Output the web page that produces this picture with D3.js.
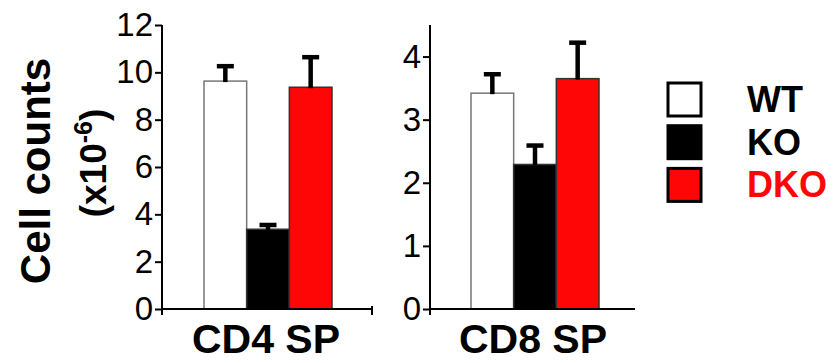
<!DOCTYPE html>
<html lang="en">

<head>
	<meta charset="utf-8">
	<script src="https://d3js.org/d3.v7.min.js"></script>
	<style type="text/css">
		body {
			margin: 0;
			background: #fff;
		}

		.tick text {
			font-family: "Liberation Sans", Arial, sans-serif;
			font-size: 33px;
			fill: #000;
		}
	</style>
</head>

<body>
	<svg id="svg1" width="833" height="363"></svg>
	<script type="text/javascript">
		// data
		var groups = ["WT", "KO", "DKO"];
		var colors = ["#ffffff", "#000000", "#ff0606"];
		var panels = ["CD4 SP", "CD8 SP"];
		var cd4Means = [9.63, 3.37, 9.37];
		var cd4Sem = [0.63, 0.18, 1.27];
		var cd8Means = [3.42, 2.29, 3.65];
		var cd8Sem = [0.30, 0.30, 0.57];
		var cd4Ticks = [0, 2, 4, 6, 8, 10, 12];
		var cd8Ticks = [0, 1, 2, 3, 4];

		var svg = d3.select("#svg1");
		var y0 = 309;
		var yTop = 25;

		var panelDefs = [
			{ name: panels[0], means: cd4Means, sem: cd4Sem, ticks: cd4Ticks, max: 12, axisX: 162, xEnd: 373, bars: [204, 332], endTick: true },
			{ name: panels[1], means: cd8Means, sem: cd8Sem, ticks: cd8Ticks, max: 4.5, axisX: 430, xEnd: 635, bars: [471, 599], endTick: false }
		];

		panelDefs.forEach(function (p) {
			var y = d3.scaleLinear().domain([0, p.max]).range([y0, yTop]);
			var x = d3.scaleBand().domain(groups).range(p.bars).paddingInner(0);
			var g = svg.append("g");

			// bars
			g.selectAll("rect.bar")
				.data(groups)
				.enter()
				.append("rect")
				.attr("class", "bar")
				.attr("x", function (d) { return x(d); })
				.attr("y", function (d, i) { return y(p.means[i]); })
				.attr("width", x.bandwidth())
				.attr("height", function (d, i) { return y0 - y(p.means[i]); })
				.style("fill", function (d, i) { return colors[i]; })
				.style("stroke", function (d, i) { return i == 0 ? "#777" : "#333"; })
				.style("stroke-width", 1.5);

			// upper error bars only
			g.selectAll("line.stem")
				.data(groups)
				.enter()
				.append("line")
				.attr("x1", function (d) { return x(d) + x.bandwidth() / 2; })
				.attr("x2", function (d) { return x(d) + x.bandwidth() / 2; })
				.attr("y1", function (d, i) { return y(p.means[i]) + 1; })
				.attr("y2", function (d, i) { return y(p.means[i] + p.sem[i]); })
				.style("stroke", "#000")
				.style("stroke-width", 4.5);
			g.selectAll("line.cap")
				.data(groups)
				.enter()
				.append("line")
				.attr("x1", function (d) { return x(d) + x.bandwidth() / 2 - 8.5; })
				.attr("x2", function (d) { return x(d) + x.bandwidth() / 2 + 8.5; })
				.attr("y1", function (d, i) { return y(p.means[i] + p.sem[i]); })
				.attr("y2", function (d, i) { return y(p.means[i] + p.sem[i]); })
				.style("stroke", "#000")
				.style("stroke-width", 4.5);

			// y axis
			var axis = g.append("g")
				.attr("transform", "translate(" + p.axisX + ",0)")
				.call(d3.axisLeft(y).tickValues(p.ticks).tickFormat(d3.format("d"))
					.tickSize(7).tickPadding(2).tickSizeOuter(0));
			axis.select(".domain").remove();
			axis.selectAll(".tick line").style("stroke", "#000").style("stroke-width", 2);
			g.append("line")
				.attr("x1", p.axisX).attr("x2", p.axisX)
				.attr("y1", yTop).attr("y2", y0 + 6)
				.style("stroke", "#000").style("stroke-width", 2);

			// x axis
			g.append("line")
				.attr("x1", p.axisX).attr("x2", p.xEnd)
				.attr("y1", y0).attr("y2", y0)
				.style("stroke", "#000").style("stroke-width", 2);
			if (p.endTick) {
				g.append("line")
					.attr("x1", p.xEnd - 1).attr("x2", p.xEnd - 1)
					.attr("y1", y0 - 3).attr("y2", y0 + 6)
					.style("stroke", "#000").style("stroke-width", 2);
			}

			g.append("text")
				.attr("x", (p.bars[0] + p.bars[1]) / 2 - 2)
				.attr("y", 353)
				.attr("text-anchor", "middle")
				.style("font-family", "'Liberation Sans', Arial, sans-serif")
				.style("font-weight", "bold")
				.style("font-size", "41px")
				.text(p.name);
		});

		// y axis title
		svg.append("text")
			.attr("transform", "translate(50,171) rotate(-90)")
			.attr("text-anchor", "middle")
			.style("font-family", "'Liberation Sans', Arial, sans-serif")
			.style("font-weight", "bold")
			.style("font-size", "42px")
			.text("Cell counts");
		var sub = svg.append("text")
			.attr("transform", "translate(106,163) rotate(-90)")
			.attr("text-anchor", "middle")
			.style("font-family", "'Liberation Sans', Arial, sans-serif")
			.style("font-weight", "bold")
			.style("font-size", "37px");
		sub.append("tspan").text("(x10");
		sub.append("tspan").attr("dy", -14).style("font-size", "25px").text("-6");
		sub.append("tspan").attr("dy", 14).text(")");

		// legend
		var legend = svg.append("g");
		legend.selectAll("rect")
			.data(groups)
			.enter()
			.append("rect")
			.attr("x", 668)
			.attr("y", function (d, i) { return 83 + i * 42.7; })
			.attr("width", 33)
			.attr("height", 33)
			.style("fill", function (d, i) { return colors[i]; })
			.style("stroke", "#000")
			.style("stroke-width", 3);
		legend.selectAll("text")
			.data(groups)
			.enter()
			.append("text")
			.attr("x", 747)
			.attr("y", function (d, i) { return 112 + i * 42.7; })
			.style("font-family", "'Liberation Sans', Arial, sans-serif")
			.style("font-weight", "bold")
			.style("font-size", "36px")
			.style("fill", function (d, i) { return i == 2 ? "#ff0606" : "#000"; })
			.text(function (d) { return d; });
	</script>

</body>

</html>
